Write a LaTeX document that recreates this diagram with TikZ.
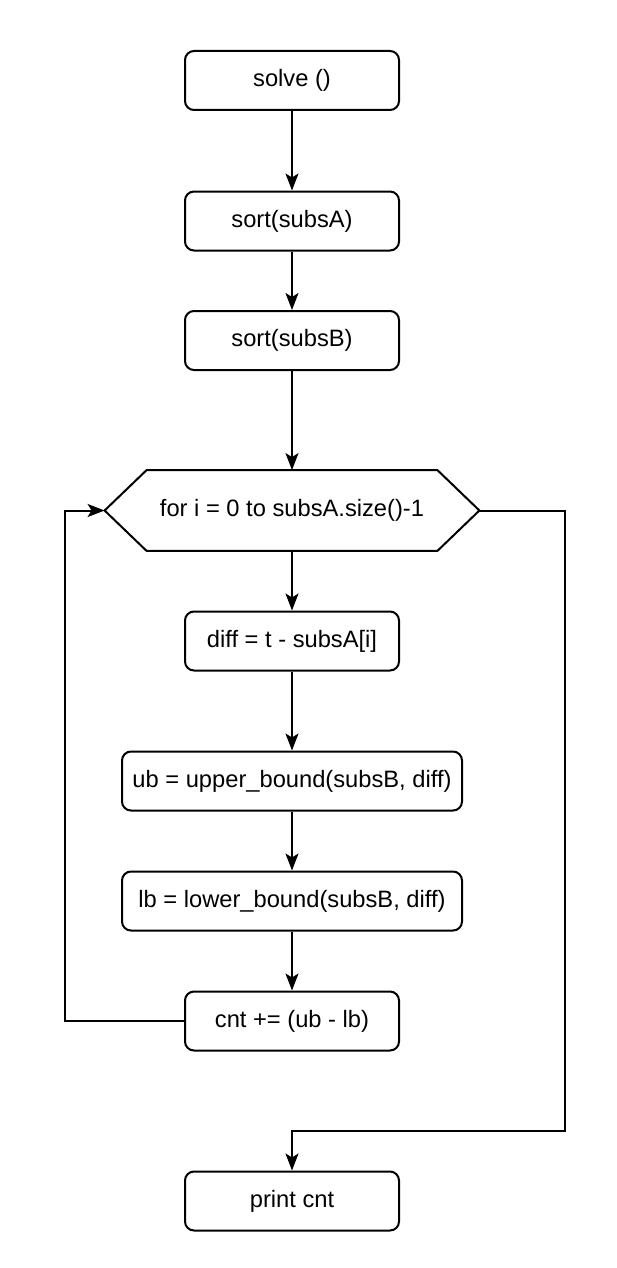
\documentclass[tikz,border=0pt]{standalone}
\usepackage{fontspec}
\setmainfont{Liberation Sans}
\usetikzlibrary{arrows.meta}
\begin{document}
\begin{tikzpicture}[x=0.5pt,y=-0.5pt,
  every node/.style={font=\fontsize{11.85}{14}\selectfont, inner sep=0pt},
  box/.style={draw, line width=1pt, rounded corners=4.5pt, minimum height=29.5pt, minimum width=107pt},
  widebox/.style={box, minimum width=170pt},
  hexnode/.style={minimum width=187pt, minimum height=40pt},
  conn/.style={line width=1pt, -{Stealth[length=8.5pt,width=6.5pt,inset=2pt]}},
  hexline/.style={line width=1pt, line join=miter}
]
\useasboundingbox (0,0) rectangle (616,1268);
\node[box] (solve) at (292,80.5) {solve ()};
\node[box] (sortA) at (292,221) {sort(subsA)};
\node[box] (sortB) at (292,340.5) {sort(subsB)};
\node[hexnode] (hex) at (292,510.5) {for i = 0 to subsA.size()-1};
\draw[hexline] (hex.west) -- ([xshift=21pt]hex.north west) -- ([xshift=-21pt]hex.north east) -- (hex.east) -- ([xshift=-21pt]hex.south east) -- ([xshift=21pt]hex.south west) -- cycle;
\node[box] (diff) at (292,641) {diff = t - subsA[i]};
\node[widebox] (ub) at (292,781) {ub = upper\_bound(subsB, diff)};
\node[widebox] (lb) at (292,901) {lb = lower\_bound(subsB, diff)};
\node[box] (cnt) at (292,1021) {cnt += (ub - lb)};
\node[box] (print) at (292,1201) {print cnt};
\coordinate (l1) at (65,1021);
\coordinate (r1) at (565,1131);
\draw[conn] (solve) -- (sortA);
\draw[conn] (sortA) -- (sortB);
\draw[conn] (sortB) -- (hex.north);
\draw[conn] (hex.south) -- (diff);
\draw[conn] (diff) -- (ub);
\draw[conn] (ub) -- (lb);
\draw[conn] (lb) -- (cnt);
\draw[conn] (cnt.west) -- (l1) |- (hex.west);
\draw[conn] (hex.east) -| (r1) -| (print.north);
\end{tikzpicture}
\end{document}
